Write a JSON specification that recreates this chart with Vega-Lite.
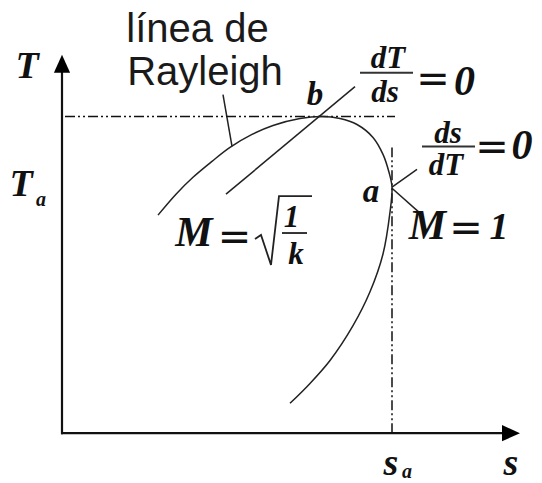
{
  "$schema": "https://vega.github.io/schema/vega-lite/v6.json",
  "width": 542,
  "height": 483,
  "padding": 0,
  "autosize": {"type": "fit", "contains": "padding"},
  "background": "white",
  "config": {"view": {"stroke": null}},
  "datasets": {
    "segments": [
      {"part": "axis", "s": 0, "T": -1, "s2": 0, "T2": 364},
      {"part": "axis", "s": -1, "T": 0, "s2": 443, "T2": 0},
      {"part": "guide", "s": 164, "T": 240, "s2": 293, "T2": 348},
      {"part": "guide", "s": 161, "T": 340, "s2": 170, "T2": 288},
      {"part": "guide", "s": 330, "T": 247, "s2": 355, "T2": 265},
      {"part": "guide", "s": 330, "T": 246, "s2": 358, "T2": 221},
      {"part": "bar", "s": 298, "T": 362, "s2": 351, "T2": 362},
      {"part": "bar", "s": 360, "T": 288, "s2": 413, "T2": 288},
      {"part": "bar", "s": 220, "T": 201, "s2": 245, "T2": 201},
      {"part": "dash", "s": 3, "T": 318, "s2": 333, "T2": 318},
      {"part": "dash", "s": 330, "T": 0, "s2": 330, "T2": 287}
    ],
    "rayleigh": [
      {"i": 0, "s": 96, "T": 219},
      {"i": 1, "s": 114, "T": 240},
      {"i": 2, "s": 131, "T": 257},
      {"i": 3, "s": 150, "T": 273},
      {"i": 4, "s": 168, "T": 287},
      {"i": 5, "s": 190, "T": 300},
      {"i": 6, "s": 211, "T": 309},
      {"i": 7, "s": 238, "T": 316},
      {"i": 8, "s": 260, "T": 318},
      {"i": 9, "s": 278, "T": 316},
      {"i": 10, "s": 295, "T": 310},
      {"i": 11, "s": 311, "T": 297},
      {"i": 12, "s": 321, "T": 280},
      {"i": 13, "s": 327, "T": 262},
      {"i": 14, "s": 330, "T": 247},
      {"i": 15, "s": 328, "T": 222},
      {"i": 16, "s": 321, "T": 180},
      {"i": 17, "s": 308, "T": 142},
      {"i": 18, "s": 291, "T": 108},
      {"i": 19, "s": 268, "T": 73},
      {"i": 20, "s": 248, "T": 50},
      {"i": 21, "s": 228, "T": 30}
    ],
    "radical": [
      {"i": 0, "s": 193, "T": 195},
      {"i": 1, "s": 199, "T": 199},
      {"i": 2, "s": 209, "T": 169},
      {"i": 3, "s": 217, "T": 238},
      {"i": 4, "s": 250, "T": 238}
    ],
    "arrows": [
      {"dir": "up", "s": 0, "T": 371},
      {"dir": "right", "s": 449, "T": 0}
    ],
    "labels": [
      {"role": "sans", "text": "línea de", "s": 135.5, "T": 393},
      {"role": "sans", "text": "Rayleigh", "s": 143, "T": 350},
      {"role": "main", "text": "T", "s": -35, "T": 357},
      {"role": "main", "text": "T", "s": -41, "T": 238},
      {"role": "main", "text": "s", "s": 329, "T": -42},
      {"role": "main", "text": "s", "s": 449, "T": -42},
      {"role": "big", "text": "M", "s": 365.5, "T": 195},
      {"role": "main", "text": "1", "s": 437, "T": 195},
      {"role": "big", "text": "M", "s": 132, "T": 188},
      {"role": "point", "text": "b", "s": 253, "T": 330},
      {"role": "point", "text": "a", "s": 309, "T": 232},
      {"role": "frac", "text": "dT", "s": 326, "T": 367},
      {"role": "frac", "text": "ds", "s": 323, "T": 333},
      {"role": "frac", "text": "ds", "s": 386, "T": 291},
      {"role": "frac", "text": "dT", "s": 384, "T": 259},
      {"role": "frac", "text": "1", "s": 229.5, "T": 207},
      {"role": "frac", "text": "k", "s": 234, "T": 170},
      {"role": "sub", "text": "a", "s": -21, "T": 228},
      {"role": "sub", "text": "a", "s": 345, "T": -45},
      {"role": "eq", "text": "=", "s": 371, "T": 343},
      {"role": "eq", "text": "=", "s": 430, "T": 274},
      {"role": "eq", "text": "=", "s": 404, "T": 193},
      {"role": "eq", "text": "=", "s": 172.5, "T": 184},
      {"role": "zero", "text": "0", "s": 402.5, "T": 340},
      {"role": "zero", "text": "0", "s": 460, "T": 275}
    ]
  },
  "encoding": {
    "x": {"field": "s", "type": "quantitative", "axis": null, "scale": {"domain": [-62, 480], "nice": false, "zero": false}},
    "y": {"field": "T", "type": "quantitative", "axis": null, "scale": {"domain": [-48, 435], "nice": false, "zero": false}}
  },
  "layer": [
    {
      "data": {"name": "segments"},
      "transform": [{"filter": "datum.part === 'axis'"}],
      "mark": {"type": "rule", "color": "#111", "strokeWidth": 2.2},
      "encoding": {"x2": {"field": "s2"}, "y2": {"field": "T2"}}
    },
    {
      "data": {"name": "segments"},
      "transform": [{"filter": "datum.part === 'guide'"}],
      "mark": {"type": "rule", "color": "#222", "strokeWidth": 1.5},
      "encoding": {"x2": {"field": "s2"}, "y2": {"field": "T2"}}
    },
    {
      "data": {"name": "segments"},
      "transform": [{"filter": "datum.part === 'bar'"}],
      "mark": {"type": "rule", "color": "#333", "strokeWidth": 2},
      "encoding": {"x2": {"field": "s2"}, "y2": {"field": "T2"}}
    },
    {
      "data": {"name": "segments"},
      "transform": [{"filter": "datum.part === 'dash'"}],
      "mark": {"type": "rule", "color": "#111", "strokeWidth": 1.5, "strokeDash": [10, 3, 2, 3, 2, 3]},
      "encoding": {"x2": {"field": "s2"}, "y2": {"field": "T2"}}
    },
    {
      "data": {"name": "rayleigh"},
      "mark": {"type": "line", "color": "#222", "strokeWidth": 1.5, "interpolate": "catmull-rom"},
      "encoding": {"order": {"field": "i", "type": "quantitative"}}
    },
    {
      "data": {"name": "radical"},
      "mark": {"type": "line", "color": "#222", "strokeWidth": 1.8, "strokeJoin": "miter"},
      "encoding": {"order": {"field": "i", "type": "quantitative"}}
    },
    {
      "data": {"name": "arrows"},
      "transform": [{"filter": "datum.dir === 'up'"}],
      "mark": {"type": "point", "filled": true, "opacity": 1, "color": "#000", "size": 324, "shape": "M0,-1L0.9,1L-0.9,1Z"}
    },
    {
      "data": {"name": "arrows"},
      "transform": [{"filter": "datum.dir === 'right'"}],
      "mark": {"type": "point", "filled": true, "opacity": 1, "color": "#000", "size": 324, "shape": "M1,0L-1,0.9L-1,-0.9Z"}
    },
    {
      "data": {"name": "labels"},
      "transform": [{"filter": "datum.role === 'sans'"}],
      "mark": {"type": "text", "font": "Liberation Sans", "fontSize": 40, "color": "#1a1a1a", "align": "center", "baseline": "alphabetic"},
      "encoding": {"text": {"field": "text"}}
    },
    {
      "data": {"name": "labels"},
      "transform": [{"filter": "datum.role === 'main'"}],
      "mark": {"type": "text", "font": "Liberation Serif", "fontStyle": "italic", "fontWeight": "bold", "fontSize": 38, "color": "#111", "align": "center", "baseline": "alphabetic"},
      "encoding": {"text": {"field": "text"}}
    },
    {
      "data": {"name": "labels"},
      "transform": [{"filter": "datum.role === 'big'"}],
      "mark": {"type": "text", "font": "Liberation Serif", "fontStyle": "italic", "fontWeight": "bold", "fontSize": 42, "color": "#111", "align": "center", "baseline": "alphabetic"},
      "encoding": {"text": {"field": "text"}}
    },
    {
      "data": {"name": "labels"},
      "transform": [{"filter": "datum.role === 'point'"}],
      "mark": {"type": "text", "font": "Liberation Serif", "fontStyle": "italic", "fontWeight": "bold", "fontSize": 33, "color": "#111", "align": "center", "baseline": "alphabetic"},
      "encoding": {"text": {"field": "text"}}
    },
    {
      "data": {"name": "labels"},
      "transform": [{"filter": "datum.role === 'frac'"}],
      "mark": {"type": "text", "font": "Liberation Serif", "fontStyle": "italic", "fontWeight": "bold", "fontSize": 31, "color": "#111", "align": "center", "baseline": "alphabetic"},
      "encoding": {"text": {"field": "text"}}
    },
    {
      "data": {"name": "labels"},
      "transform": [{"filter": "datum.role === 'sub'"}],
      "mark": {"type": "text", "font": "Liberation Serif", "fontStyle": "italic", "fontWeight": "bold", "fontSize": 20, "color": "#111", "align": "center", "baseline": "alphabetic"},
      "encoding": {"text": {"field": "text"}}
    },
    {
      "data": {"name": "labels"},
      "transform": [{"filter": "datum.role === 'eq'"}],
      "mark": {"type": "text", "font": "DejaVu Sans", "fontSize": 40, "color": "#111", "align": "center", "baseline": "alphabetic"},
      "encoding": {"text": {"field": "text"}}
    },
    {
      "data": {"name": "labels"},
      "transform": [{"filter": "datum.role === 'zero'"}],
      "mark": {"type": "text", "font": "Liberation Serif", "fontStyle": "italic", "fontWeight": "bold", "fontSize": 42, "color": "#111", "align": "center", "baseline": "alphabetic"},
      "encoding": {"text": {"field": "text"}}
    }
  ]
}
